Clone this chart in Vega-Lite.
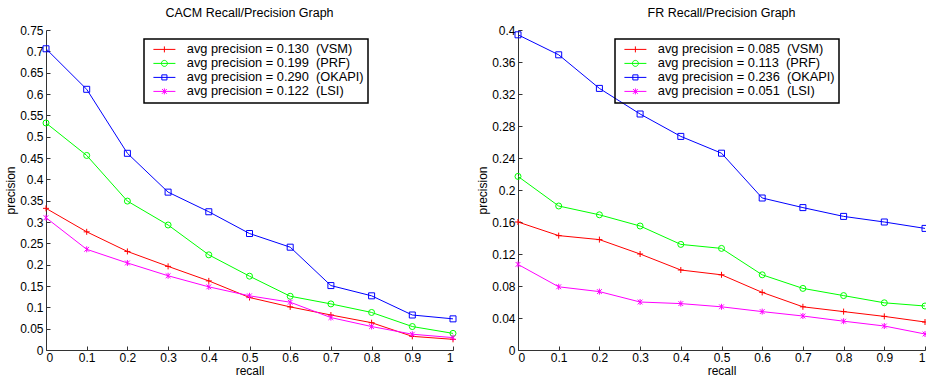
{
  "$schema": "https://vega.github.io/schema/vega-lite/v6.json",
  "padding": {"left": 4, "top": 6, "right": 0, "bottom": 0},
  "background": "white",
  "datasets": {
    "cacm": [
      {"series": "avg precision = 0.130\u00a0 (VSM)", "recall": 0, "precision": 0.332},
      {"series": "avg precision = 0.130\u00a0 (VSM)", "recall": 0.1, "precision": 0.277},
      {"series": "avg precision = 0.130\u00a0 (VSM)", "recall": 0.2, "precision": 0.231},
      {"series": "avg precision = 0.130\u00a0 (VSM)", "recall": 0.3, "precision": 0.196},
      {"series": "avg precision = 0.130\u00a0 (VSM)", "recall": 0.4, "precision": 0.162},
      {"series": "avg precision = 0.130\u00a0 (VSM)", "recall": 0.5, "precision": 0.123},
      {"series": "avg precision = 0.130\u00a0 (VSM)", "recall": 0.6, "precision": 0.101},
      {"series": "avg precision = 0.130\u00a0 (VSM)", "recall": 0.7, "precision": 0.082},
      {"series": "avg precision = 0.130\u00a0 (VSM)", "recall": 0.8, "precision": 0.064},
      {"series": "avg precision = 0.130\u00a0 (VSM)", "recall": 0.9, "precision": 0.032},
      {"series": "avg precision = 0.130\u00a0 (VSM)", "recall": 1, "precision": 0.025},
      {"series": "avg precision = 0.199\u00a0 (PRF)", "recall": 0, "precision": 0.532},
      {"series": "avg precision = 0.199\u00a0 (PRF)", "recall": 0.1, "precision": 0.456},
      {"series": "avg precision = 0.199\u00a0 (PRF)", "recall": 0.2, "precision": 0.349},
      {"series": "avg precision = 0.199\u00a0 (PRF)", "recall": 0.3, "precision": 0.293},
      {"series": "avg precision = 0.199\u00a0 (PRF)", "recall": 0.4, "precision": 0.223},
      {"series": "avg precision = 0.199\u00a0 (PRF)", "recall": 0.5, "precision": 0.173},
      {"series": "avg precision = 0.199\u00a0 (PRF)", "recall": 0.6, "precision": 0.126},
      {"series": "avg precision = 0.199\u00a0 (PRF)", "recall": 0.7, "precision": 0.108},
      {"series": "avg precision = 0.199\u00a0 (PRF)", "recall": 0.8, "precision": 0.088},
      {"series": "avg precision = 0.199\u00a0 (PRF)", "recall": 0.9, "precision": 0.055},
      {"series": "avg precision = 0.199\u00a0 (PRF)", "recall": 1, "precision": 0.039},
      {"series": "avg precision = 0.290\u00a0 (OKAPI)", "recall": 0, "precision": 0.706},
      {"series": "avg precision = 0.290\u00a0 (OKAPI)", "recall": 0.1, "precision": 0.611},
      {"series": "avg precision = 0.290\u00a0 (OKAPI)", "recall": 0.2, "precision": 0.461},
      {"series": "avg precision = 0.290\u00a0 (OKAPI)", "recall": 0.3, "precision": 0.370},
      {"series": "avg precision = 0.290\u00a0 (OKAPI)", "recall": 0.4, "precision": 0.324},
      {"series": "avg precision = 0.290\u00a0 (OKAPI)", "recall": 0.5, "precision": 0.273},
      {"series": "avg precision = 0.290\u00a0 (OKAPI)", "recall": 0.6, "precision": 0.241},
      {"series": "avg precision = 0.290\u00a0 (OKAPI)", "recall": 0.7, "precision": 0.151},
      {"series": "avg precision = 0.290\u00a0 (OKAPI)", "recall": 0.8, "precision": 0.127},
      {"series": "avg precision = 0.290\u00a0 (OKAPI)", "recall": 0.9, "precision": 0.082},
      {"series": "avg precision = 0.290\u00a0 (OKAPI)", "recall": 1, "precision": 0.073},
      {"series": "avg precision = 0.122\u00a0 (LSI)", "recall": 0, "precision": 0.310},
      {"series": "avg precision = 0.122\u00a0 (LSI)", "recall": 0.1, "precision": 0.236},
      {"series": "avg precision = 0.122\u00a0 (LSI)", "recall": 0.2, "precision": 0.204},
      {"series": "avg precision = 0.122\u00a0 (LSI)", "recall": 0.3, "precision": 0.174},
      {"series": "avg precision = 0.122\u00a0 (LSI)", "recall": 0.4, "precision": 0.148},
      {"series": "avg precision = 0.122\u00a0 (LSI)", "recall": 0.5, "precision": 0.127},
      {"series": "avg precision = 0.122\u00a0 (LSI)", "recall": 0.6, "precision": 0.112},
      {"series": "avg precision = 0.122\u00a0 (LSI)", "recall": 0.7, "precision": 0.076},
      {"series": "avg precision = 0.122\u00a0 (LSI)", "recall": 0.8, "precision": 0.055},
      {"series": "avg precision = 0.122\u00a0 (LSI)", "recall": 0.9, "precision": 0.037},
      {"series": "avg precision = 0.122\u00a0 (LSI)", "recall": 1, "precision": 0.029}
    ],
    "fr": [
      {"series": "avg precision = 0.085\u00a0 (VSM)", "recall": 0, "precision": 0.160},
      {"series": "avg precision = 0.085\u00a0 (VSM)", "recall": 0.1, "precision": 0.143},
      {"series": "avg precision = 0.085\u00a0 (VSM)", "recall": 0.2, "precision": 0.138},
      {"series": "avg precision = 0.085\u00a0 (VSM)", "recall": 0.3, "precision": 0.120},
      {"series": "avg precision = 0.085\u00a0 (VSM)", "recall": 0.4, "precision": 0.100},
      {"series": "avg precision = 0.085\u00a0 (VSM)", "recall": 0.5, "precision": 0.094},
      {"series": "avg precision = 0.085\u00a0 (VSM)", "recall": 0.6, "precision": 0.072},
      {"series": "avg precision = 0.085\u00a0 (VSM)", "recall": 0.7, "precision": 0.054},
      {"series": "avg precision = 0.085\u00a0 (VSM)", "recall": 0.8, "precision": 0.048},
      {"series": "avg precision = 0.085\u00a0 (VSM)", "recall": 0.9, "precision": 0.042},
      {"series": "avg precision = 0.085\u00a0 (VSM)", "recall": 1, "precision": 0.035},
      {"series": "avg precision = 0.113\u00a0 (PRF)", "recall": 0, "precision": 0.217},
      {"series": "avg precision = 0.113\u00a0 (PRF)", "recall": 0.1, "precision": 0.180},
      {"series": "avg precision = 0.113\u00a0 (PRF)", "recall": 0.2, "precision": 0.169},
      {"series": "avg precision = 0.113\u00a0 (PRF)", "recall": 0.3, "precision": 0.155},
      {"series": "avg precision = 0.113\u00a0 (PRF)", "recall": 0.4, "precision": 0.132},
      {"series": "avg precision = 0.113\u00a0 (PRF)", "recall": 0.5, "precision": 0.127},
      {"series": "avg precision = 0.113\u00a0 (PRF)", "recall": 0.6, "precision": 0.094},
      {"series": "avg precision = 0.113\u00a0 (PRF)", "recall": 0.7, "precision": 0.077},
      {"series": "avg precision = 0.113\u00a0 (PRF)", "recall": 0.8, "precision": 0.068},
      {"series": "avg precision = 0.113\u00a0 (PRF)", "recall": 0.9, "precision": 0.059},
      {"series": "avg precision = 0.113\u00a0 (PRF)", "recall": 1, "precision": 0.055},
      {"series": "avg precision = 0.236\u00a0 (OKAPI)", "recall": 0, "precision": 0.394},
      {"series": "avg precision = 0.236\u00a0 (OKAPI)", "recall": 0.1, "precision": 0.369},
      {"series": "avg precision = 0.236\u00a0 (OKAPI)", "recall": 0.2, "precision": 0.327},
      {"series": "avg precision = 0.236\u00a0 (OKAPI)", "recall": 0.3, "precision": 0.295},
      {"series": "avg precision = 0.236\u00a0 (OKAPI)", "recall": 0.4, "precision": 0.267},
      {"series": "avg precision = 0.236\u00a0 (OKAPI)", "recall": 0.5, "precision": 0.246},
      {"series": "avg precision = 0.236\u00a0 (OKAPI)", "recall": 0.6, "precision": 0.190},
      {"series": "avg precision = 0.236\u00a0 (OKAPI)", "recall": 0.7, "precision": 0.178},
      {"series": "avg precision = 0.236\u00a0 (OKAPI)", "recall": 0.8, "precision": 0.167},
      {"series": "avg precision = 0.236\u00a0 (OKAPI)", "recall": 0.9, "precision": 0.160},
      {"series": "avg precision = 0.236\u00a0 (OKAPI)", "recall": 1, "precision": 0.152},
      {"series": "avg precision = 0.051\u00a0 (LSI)", "recall": 0, "precision": 0.107},
      {"series": "avg precision = 0.051\u00a0 (LSI)", "recall": 0.1, "precision": 0.079},
      {"series": "avg precision = 0.051\u00a0 (LSI)", "recall": 0.2, "precision": 0.073},
      {"series": "avg precision = 0.051\u00a0 (LSI)", "recall": 0.3, "precision": 0.060},
      {"series": "avg precision = 0.051\u00a0 (LSI)", "recall": 0.4, "precision": 0.058},
      {"series": "avg precision = 0.051\u00a0 (LSI)", "recall": 0.5, "precision": 0.054},
      {"series": "avg precision = 0.051\u00a0 (LSI)", "recall": 0.6, "precision": 0.048},
      {"series": "avg precision = 0.051\u00a0 (LSI)", "recall": 0.7, "precision": 0.0425},
      {"series": "avg precision = 0.051\u00a0 (LSI)", "recall": 0.8, "precision": 0.036},
      {"series": "avg precision = 0.051\u00a0 (LSI)", "recall": 0.9, "precision": 0.030},
      {"series": "avg precision = 0.051\u00a0 (LSI)", "recall": 1, "precision": 0.020}
    ]
  },
  "hconcat": [
    {
      "width": 407,
      "height": 320,
      "title": "CACM Recall/Precision Graph",
      "data": {"name": "cacm"},
      "encoding": {
        "x": {"field": "recall", "type": "quantitative", "scale": {"domain": [0, 1], "nice": false}, "axis": {"values": [0, 0.1, 0.2, 0.3, 0.4, 0.5, 0.6, 0.7, 0.8, 0.9, 1], "format": "~g", "title": "recall", "labelPadding": 6, "titlePadding": 2}},
        "y": {"field": "precision", "type": "quantitative", "scale": {"domain": [0, 0.75], "nice": false}, "axis": {"values": [0, 0.05, 0.1, 0.15, 0.2, 0.25, 0.3, 0.35, 0.4, 0.45, 0.5, 0.55, 0.6, 0.65, 0.7, 0.75], "format": "~g", "title": "precision", "labelPadding": 7}}
      },
      "layer": [
        {
          "mark": {"type": "line", "strokeWidth": 1},
          "encoding": {"color": {"field": "series", "type": "nominal", "scale": {"domain": ["avg precision = 0.130\u00a0 (VSM)", "avg precision = 0.199\u00a0 (PRF)", "avg precision = 0.290\u00a0 (OKAPI)", "avg precision = 0.122\u00a0 (LSI)"], "range": ["#ff0000", "#00ff00", "#0000ff", "#ff00ff"]}, "legend": null}}
        },
        {
          "mark": {"type": "point", "filled": false, "size": 36, "strokeWidth": 1, "opacity": 1},
          "encoding": {
            "color": {"field": "series", "type": "nominal", "scale": {"domain": ["avg precision = 0.130\u00a0 (VSM)", "avg precision = 0.199\u00a0 (PRF)", "avg precision = 0.290\u00a0 (OKAPI)", "avg precision = 0.122\u00a0 (LSI)"], "range": ["#ff0000", "#00ff00", "#0000ff", "#ff00ff"]}, "legend": null},
            "shape": {"field": "series", "type": "nominal", "scale": {"domain": ["avg precision = 0.130\u00a0 (VSM)", "avg precision = 0.199\u00a0 (PRF)", "avg precision = 0.290\u00a0 (OKAPI)", "avg precision = 0.122\u00a0 (LSI)"], "range": ["M-1,0H1M0,-1V1", "circle", "square", "M-0.8,-0.8L0.8,0.8M-0.8,0.8L0.8,-0.8M0,-1V1"]}, "legend": null}
          }
        },
        {
          "transform": [{"filter": "false"}],
          "mark": {"type": "point", "filled": false, "size": 36, "strokeWidth": 1, "opacity": 1},
          "encoding": {
            "color": {"field": "series", "type": "nominal", "scale": {"domain": ["avg precision = 0.130\u00a0 (VSM)", "avg precision = 0.199\u00a0 (PRF)", "avg precision = 0.290\u00a0 (OKAPI)", "avg precision = 0.122\u00a0 (LSI)"], "range": ["#ff0000", "#00ff00", "#0000ff", "#ff00ff"]},
              "legend": {"title": null, "orient": "none", "legendX": 98, "legendY": 9, "padding": 4, "strokeColor": "black", "labelFontSize": 12.8, "labelFont": "Liberation Sans", "labelColor": "black", "rowPadding": 0, "labelOffset": 26, "symbolSize": 36, "symbolStrokeWidth": 1, "symbolOpacity": 1, "labelLimit": 0}},
            "shape": {"field": "series", "type": "nominal", "scale": {"domain": ["avg precision = 0.130\u00a0 (VSM)", "avg precision = 0.199\u00a0 (PRF)", "avg precision = 0.290\u00a0 (OKAPI)", "avg precision = 0.122\u00a0 (LSI)"], "range": ["M-0.33,0H7M3.33,-1V1", "M-0.33,0H7M4.33,0A1,1 0 1,1 2.33,0A1,1 0 1,1 4.33,0", "M-0.33,0H7M2.48,-0.85H4.18V0.85H2.48Z", "M-0.33,0H7M2.53,-0.8L4.13,0.8M2.53,0.8L4.13,-0.8M3.33,-1V1"]},
              "legend": {"title": null, "orient": "none", "legendX": 98, "legendY": 9, "padding": 4, "strokeColor": "black", "labelFontSize": 12.8, "labelFont": "Liberation Sans", "labelColor": "black", "rowPadding": 0, "labelOffset": 26, "symbolSize": 36, "symbolStrokeWidth": 1, "symbolOpacity": 1, "labelLimit": 0}}
          }
        }
      ],
      "resolve": {"scale": {"color": "independent", "shape": "independent"}}
    },
    {
      "width": 407,
      "height": 320,
      "title": "FR Recall/Precision Graph",
      "data": {"name": "fr"},
      "encoding": {
        "x": {"field": "recall", "type": "quantitative", "scale": {"domain": [0, 1], "nice": false}, "axis": {"values": [0, 0.1, 0.2, 0.3, 0.4, 0.5, 0.6, 0.7, 0.8, 0.9, 1], "format": "~g", "title": "recall", "labelPadding": 6, "titlePadding": 2}},
        "y": {"field": "precision", "type": "quantitative", "scale": {"domain": [0, 0.4], "nice": false}, "axis": {"values": [0, 0.04, 0.08, 0.12, 0.16, 0.2, 0.24, 0.28, 0.32, 0.36, 0.4], "format": "~g", "title": "precision", "labelPadding": 7}}
      },
      "layer": [
        {
          "mark": {"type": "line", "strokeWidth": 1},
          "encoding": {"color": {"field": "series", "type": "nominal", "scale": {"domain": ["avg precision = 0.085\u00a0 (VSM)", "avg precision = 0.113\u00a0 (PRF)", "avg precision = 0.236\u00a0 (OKAPI)", "avg precision = 0.051\u00a0 (LSI)"], "range": ["#ff0000", "#00ff00", "#0000ff", "#ff00ff"]}, "legend": null}}
        },
        {
          "mark": {"type": "point", "filled": false, "size": 36, "strokeWidth": 1, "opacity": 1},
          "encoding": {
            "color": {"field": "series", "type": "nominal", "scale": {"domain": ["avg precision = 0.085\u00a0 (VSM)", "avg precision = 0.113\u00a0 (PRF)", "avg precision = 0.236\u00a0 (OKAPI)", "avg precision = 0.051\u00a0 (LSI)"], "range": ["#ff0000", "#00ff00", "#0000ff", "#ff00ff"]}, "legend": null},
            "shape": {"field": "series", "type": "nominal", "scale": {"domain": ["avg precision = 0.085\u00a0 (VSM)", "avg precision = 0.113\u00a0 (PRF)", "avg precision = 0.236\u00a0 (OKAPI)", "avg precision = 0.051\u00a0 (LSI)"], "range": ["M-1,0H1M0,-1V1", "circle", "square", "M-0.8,-0.8L0.8,0.8M-0.8,0.8L0.8,-0.8M0,-1V1"]}, "legend": null}
          }
        },
        {
          "transform": [{"filter": "false"}],
          "mark": {"type": "point", "filled": false, "size": 36, "strokeWidth": 1, "opacity": 1},
          "encoding": {
            "color": {"field": "series", "type": "nominal", "scale": {"domain": ["avg precision = 0.085\u00a0 (VSM)", "avg precision = 0.113\u00a0 (PRF)", "avg precision = 0.236\u00a0 (OKAPI)", "avg precision = 0.051\u00a0 (LSI)"], "range": ["#ff0000", "#00ff00", "#0000ff", "#ff00ff"]},
              "legend": {"title": null, "orient": "none", "legendX": 97, "legendY": 9, "padding": 4, "strokeColor": "black", "labelFontSize": 12.8, "labelFont": "Liberation Sans", "labelColor": "black", "rowPadding": 0, "labelOffset": 26, "symbolSize": 36, "symbolStrokeWidth": 1, "symbolOpacity": 1, "labelLimit": 0}},
            "shape": {"field": "series", "type": "nominal", "scale": {"domain": ["avg precision = 0.085\u00a0 (VSM)", "avg precision = 0.113\u00a0 (PRF)", "avg precision = 0.236\u00a0 (OKAPI)", "avg precision = 0.051\u00a0 (LSI)"], "range": ["M-0.33,0H7M3.33,-1V1", "M-0.33,0H7M4.33,0A1,1 0 1,1 2.33,0A1,1 0 1,1 4.33,0", "M-0.33,0H7M2.48,-0.85H4.18V0.85H2.48Z", "M-0.33,0H7M2.53,-0.8L4.13,0.8M2.53,0.8L4.13,-0.8M3.33,-1V1"]},
              "legend": {"title": null, "orient": "none", "legendX": 97, "legendY": 9, "padding": 4, "strokeColor": "black", "labelFontSize": 12.8, "labelFont": "Liberation Sans", "labelColor": "black", "rowPadding": 0, "labelOffset": 26, "symbolSize": 36, "symbolStrokeWidth": 1, "symbolOpacity": 1, "labelLimit": 0}}
          }
        }
      ],
      "resolve": {"scale": {"color": "independent", "shape": "independent"}}
    }
  ],
  "config": {
    "font": "Liberation Sans",
    "view": {"stroke": null},
    "concat": {"spacing": 18},
    "legend": {"strokeWidth": 1.5},
    "title": {"fontSize": 12.5, "fontWeight": "normal", "color": "black", "font": "Liberation Sans", "offset": 5},
    "axis": {"grid": false, "domainColor": "#333333", "domainWidth": 1, "tickColor": "#333333", "tickSize": -4, "labelFontSize": 12, "labelColor": "black", "labelFont": "Liberation Sans", "titleFontSize": 12, "titleFontWeight": "normal", "titleColor": "black", "titleFont": "Liberation Sans", "titlePadding": 2}
  }
}
